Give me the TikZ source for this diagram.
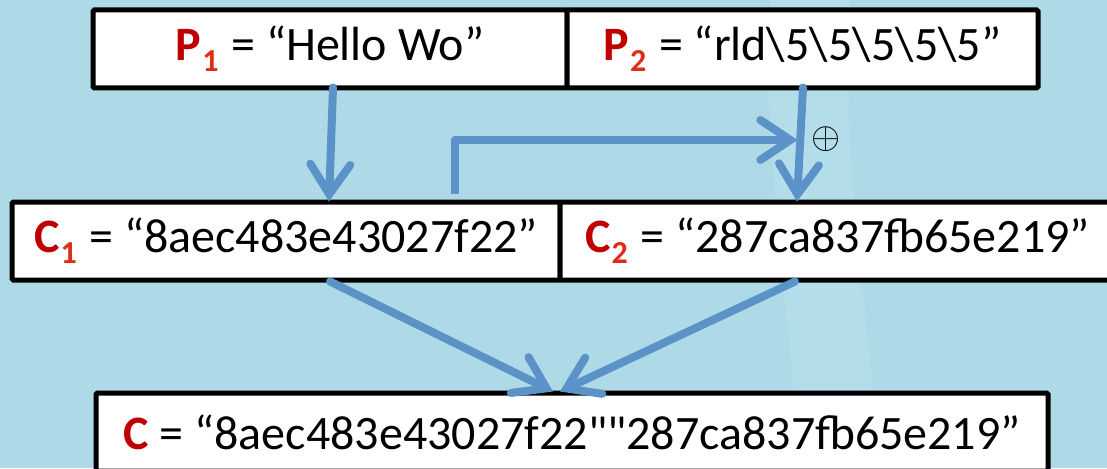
\documentclass[tikz,border=0pt]{standalone}
\usepackage{fontspec}
\setmainfont{Carlito}
\usetikzlibrary{arrows.meta}
\definecolor{bg}{RGB}{173,218,230}
\definecolor{swoosh}{RGB}{188,227,237}
\definecolor{arr}{RGB}{91,147,200}
\definecolor{dred}{RGB}{192,0,0}
\definecolor{sred}{RGB}{222,45,20}
\newcommand{\lbl}[2]{\textcolor{dred}{\bfseries #1}\kern1pt\relax\raisebox{-11pt}{\fontsize{32}{32}\selectfont\bfseries\textcolor{sred}{#2}}\kern2pt\relax}
\begin{document}
\begin{tikzpicture}[x=1pt,y=-1pt,
  box/.style={draw=black, line width=5pt, fill=white, rounded corners=1.5pt, inner sep=0pt, font=\fontsize{48}{58}\selectfont},
  flow/.style={draw=arr, line width=8pt, line cap=round, line join=round, -{Straight Barb[length=30pt,width=40pt,line cap=round]}}]
\useasboundingbox (0,0) rectangle (1107,468);
\clip (0,0) rectangle (1107,468);
\fill[bg] (0,0) rectangle (1107,468);
% light swoosh
\fill[swoosh, opacity=0.45] (770,0) .. controls (760,120) and (790,320) .. (800,468) -- (880,468) .. controls (870,330) and (840,150) .. (850,0) -- cycle;
% boxes
\node[box, minimum width=474pt, minimum height=78pt] (p1) at (330,49) {\lbl{P}{1} = “Hello Wo”};
\node[box, minimum width=471pt, minimum height=78pt] (p2) at (802.5,49) {\lbl{P}{2} = “rld\textbackslash 5\textbackslash 5\textbackslash 5\textbackslash 5\textbackslash 5”};
\node[box, minimum width=548pt, minimum height=78pt] (c1) at (286,241) {\lbl{C}{1} = “8aec483e43027f22”};
\node[box, minimum width=555pt, minimum height=78pt] (c2) at (837.5,241) {\lbl{C}{2} = “287ca837fb65e219”};
\node[box, minimum width=952pt, minimum height=78pt] (c) at (572,432) {\textcolor{dred}{\bfseries C} = “8aec483e43027f22{\addfontfeatures{Ligatures=TeXOff}""}287ca837fb65e219”};
% arrows
\draw[flow] ([xshift=3pt,yshift=3pt]p1.south) -- ([xshift=43pt,yshift=-2pt]c1.north);
\draw[flow] ([xshift=0.5pt,yshift=3pt]p2.south) -- ([xshift=-40.5pt,yshift=-2pt]c2.north);
\coordinate (bend) at ([xshift=169pt]c1.north |- 0,140);
\draw[flow, line cap=butt] ([xshift=169pt,yshift=6pt]c1.north) -- (bend) -- ([xshift=-5pt]p2.south |- bend);
\node[inner sep=0pt, font=\fontsize{24}{24}\selectfont] (xor) at (826,139) {\scalebox{1.5}{$\oplus$}};
\draw[flow] ([xshift=44pt,yshift=1pt]c1.south) -- ([xshift=-19pt,yshift=-1pt]c.north);
\draw[flow] ([xshift=-42.5pt,yshift=1pt]c2.south) -- ([xshift=-12pt,yshift=-1pt]c.north);
\end{tikzpicture}
\end{document}
